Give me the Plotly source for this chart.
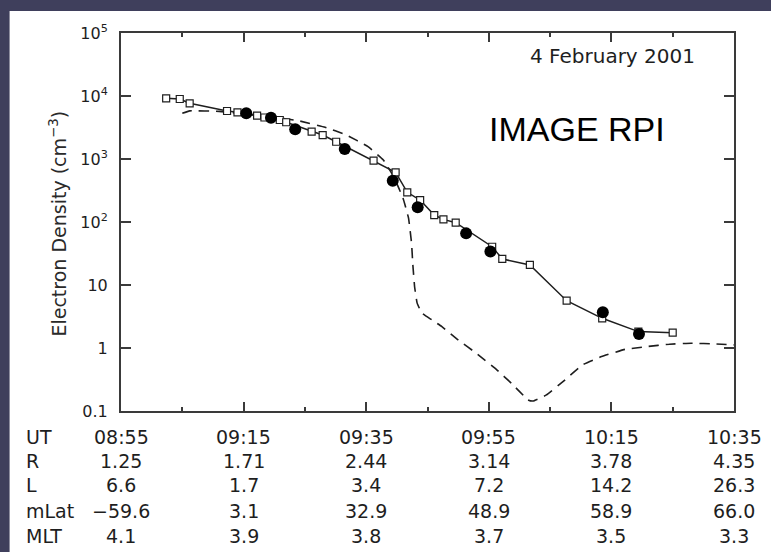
import plotly.graph_objects as go

DAY = "2001-02-04 "

# RPI-derived electron density (open squares joined by a solid line)
sq_times = ["09:02:22", "09:04:35", "09:06:12", "09:12:18", "09:14:00", "09:17:12",
            "09:18:24", "09:20:54", "09:21:57", "09:26:06", "09:27:54", "09:30:06",
            "09:36:12", "09:39:48", "09:41:42", "09:43:48", "09:46:06", "09:47:36",
            "09:49:36", "09:55:33", "09:57:12", "10:01:42", "10:07:42", "10:13:30",
            "10:19:24", "10:25:00"]
sq_density = [9190, 8960, 7660, 5780, 5510, 4870,
              4560, 4160, 3830, 2710, 2400, 1880,
              940, 615, 296, 223, 129, 110,
              97.5, 40.5, 25.9, 20.8, 5.64, 2.96,
              1.82, 1.75]

# Independent density estimates (filled circles)
circ_times = ["09:15:26", "09:19:28", "09:23:25", "09:31:30", "09:39:20",
              "09:43:24", "09:51:18", "09:55:16", "10:13:36", "10:19:30"]
circ_density = [5310, 4530, 2960, 1440, 453, 171, 66, 34, 3.69, 1.67]

# Model density along the orbit (dashed)
model_times = ["09:05:00", "09:06:12", "09:11:00", "09:17:00", "09:23:54", "09:28:18",
               "09:31:36", "09:35:18", "09:37:48", "09:39:30", "09:41:00", "09:41:54",
               "09:42:24", "09:42:36", "09:42:54", "09:43:18", "09:44:03", "09:45:42",
               "09:47:18", "09:50:00", "09:53:00", "09:56:18", "09:58:42", "10:01:24",
               "10:02:12", "10:04:24", "10:07:24", "10:10:18", "10:13:24", "10:17:12",
               "10:20:42", "10:24:30", "10:28:00", "10:32:06", "10:35:00"]
model_density = [5300, 5800, 5700, 5000, 4060, 3190,
                 2450, 1570, 964, 520, 240, 116,
                 46, 21.5, 9.3, 5.2, 3.6, 2.8,
                 2.2, 1.34, 0.82, 0.45, 0.275, 0.15,
                 0.144, 0.18, 0.31, 0.54, 0.73, 0.95,
                 1.05, 1.15, 1.19, 1.16, 1.12]

# Orbit table under the time axis
tick_times = ["08:55", "09:15", "09:35", "09:55", "10:15", "10:35"]
minor_times = ["09:05", "09:25", "09:45", "10:05", "10:25"]
row_names = ["UT", "R", "L", "mLat", "MLT"]
r_vals = ["1.25", "1.71", "2.44", "3.14", "3.78", "4.35"]
l_vals = ["6.6", "1.7", "3.4", "7.2", "14.2", "26.3"]
mlat_vals = ["\u221259.6", "3.1", "32.9", "48.9", "58.9", "66.0"]
mlt_vals = ["4.1", "3.9", "3.8", "3.7", "3.5", "3.3"]

y_tickvals = [0.1, 1, 10, 100, 1e3, 1e4, 1e5]
y_ticktext = ["0.1", "1", "10", "10<sup>2</sup>", "10<sup>3</sup>", "10<sup>4</sup>", "10<sup>5</sup>"]

FONT = "DejaVu Sans"
INK = "#1e1e1e"
AXIS = "#3a3a3a"

def stamp(ts):
    return [DAY + t for t in ts]

fig = go.Figure()
fig.add_trace(go.Scatter(
    x=stamp(model_times), y=model_density, mode="lines",
    line=dict(color=INK, width=1.6, dash="10px,7px", shape="spline", smoothing=0.3),
    hoverinfo="skip", showlegend=False))
fig.add_trace(go.Scatter(
    x=stamp(sq_times), y=sq_density, mode="lines+markers",
    line=dict(color=INK, width=1.5),
    marker=dict(symbol="square", size=7, color="white", line=dict(color=INK, width=1.2)),
    showlegend=False))
fig.add_trace(go.Scatter(
    x=stamp(circ_times), y=circ_density, mode="markers",
    marker=dict(symbol="circle", size=12, color="black"),
    showlegend=False))

# Plot area in pixels, used to place the table and header text in paper units
L, R, T, B = 120.5, 734.0, 33.0, 411.0
W, H = R - L, B - T
def px(xp):
    return (xp - L) / W
def py(yp):
    return (B - yp) / H

# White slide panel behind the chart
fig.add_shape(type="rect", xref="paper", yref="paper",
              x0=px(9), x1=px(775), y0=py(556), y1=py(11),
              fillcolor="white", line=dict(width=0), layer="below")

annotations = []
rows = [tick_times, r_vals, l_vals, mlat_vals, mlt_vals]
row_y = [436.5, 461.0, 485.5, 510.5, 535.5]
for name, vals, yc in zip(row_names, rows, row_y):
    annotations.append(dict(text=name, xref="paper", yref="paper", x=px(23), y=py(yc),
                            xanchor="left", yanchor="middle", showarrow=False,
                            font=dict(family=FONT, size=19, color=INK)))
    for t, v in zip(tick_times, vals):
        annotations.append(dict(text=v, xref="x", yref="paper", x=DAY + t, y=py(yc),
                                xanchor="center", yanchor="middle", showarrow=False,
                                font=dict(family=FONT, size=19, color=INK)))

annotations.append(dict(text="4 February 2001", xref="paper", yref="paper",
                        x=px(697), y=py(56), xanchor="right", yanchor="middle",
                        showarrow=False, font=dict(family=FONT, size=20, color=INK)))
annotations.append(dict(text="IMAGE RPI", xref="paper", yref="paper",
                        x=px(487), y=py(129), xanchor="left", yanchor="middle",
                        showarrow=False, font=dict(family="Liberation Sans", size=34, color="black")))
annotations.append(dict(text="Electron Density (cm<sup>\u22123</sup>)", xref="paper", yref="paper",
                        x=px(57), y=py(224), xanchor="center", yanchor="middle", textangle=-90,
                        showarrow=False, font=dict(family=FONT, size=19, color="#2a2a2a")))

fig.update_layout(
    width=771, height=552,
    margin=dict(l=L, r=771 - R, t=T, b=552 - B),
    paper_bgcolor="#3f3f5c",
    plot_bgcolor="white",
    annotations=annotations,
    font=dict(family=FONT, color=INK),
)
fig.update_xaxes(
    type="date", range=[DAY + "08:55", DAY + "10:35"],
    tickvals=stamp(tick_times), showticklabels=False,
    ticks="inside", ticklen=9, tickwidth=1.5, tickcolor=AXIS,
    minor=dict(tickvals=stamp(minor_times), ticks="inside", ticklen=4, tickwidth=1.5, tickcolor=AXIS),
    showline=True, linecolor=AXIS, linewidth=2, mirror="ticks",
    showgrid=False, zeroline=False,
)
fig.update_yaxes(
    type="log", range=[-1, 5],
    tickvals=y_tickvals, ticktext=y_ticktext,
    ticks="inside", ticklen=10, tickwidth=1.5, tickcolor=AXIS,
    showline=True, linecolor=AXIS, linewidth=2, mirror="ticks",
    showgrid=False, zeroline=False,
    tickfont=dict(family=FONT, size=16, color=INK),
    ticklabelstandoff=8,
)

fig.write_html("out.html")
